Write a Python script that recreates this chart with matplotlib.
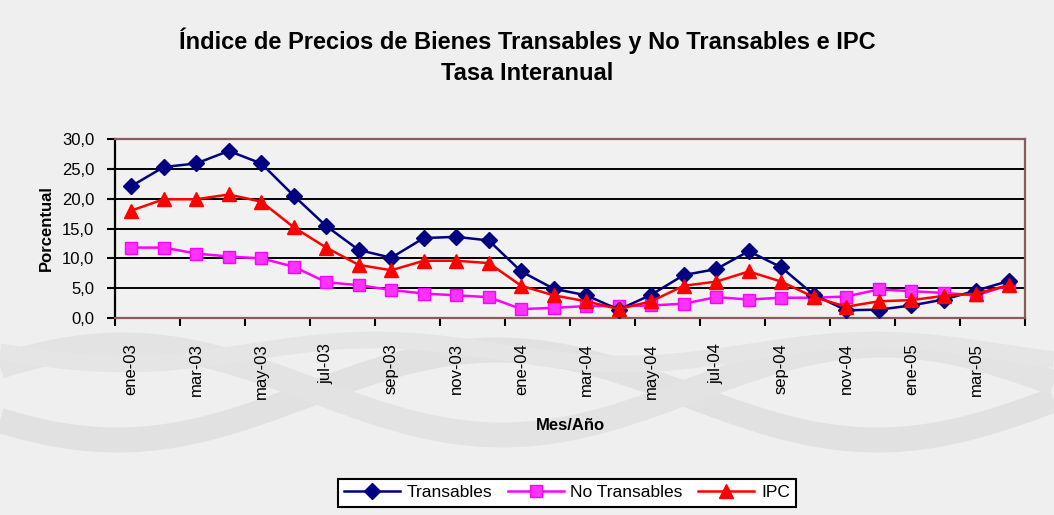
import matplotlib
matplotlib.use('Agg')
import matplotlib.pyplot as plt
import numpy as np

meses = ['ene-03', 'feb-03', 'mar-03', 'abr-03', 'may-03', 'jun-03', 'jul-03',
         'ago-03', 'sep-03', 'oct-03', 'nov-03', 'dic-03',
         'ene-04', 'feb-04', 'mar-04', 'abr-04', 'may-04', 'jun-04', 'jul-04',
         'ago-04', 'sep-04', 'oct-04', 'nov-04', 'dic-04',
         'ene-05', 'feb-05', 'mar-05', 'abr-05']

transables = [22.1, 25.3, 25.9, 28.0, 25.9, 20.5, 15.4, 11.4, 10.1, 13.4, 13.6, 13.0,
              7.8, 4.9, 3.8, 1.4, 3.9, 7.2, 8.2, 11.2, 8.5, 3.9, 1.3, 1.4,
              2.1, 3.1, 4.6, 6.2]
no_transables = [11.8, 11.8, 10.8, 10.3, 10.0, 8.6, 6.0, 5.5, 4.7, 4.1, 3.8, 3.5,
                 1.5, 1.7, 2.0, 2.0, 2.1, 2.4, 3.5, 3.1, 3.4, 3.4, 3.6, 4.8,
                 4.5, 4.2, 3.8, 5.5]
ipc = [18.0, 19.9, 19.9, 20.7, 19.5, 15.2, 11.8, 8.9, 8.0, 9.6, 9.6, 9.2,
       5.4, 3.8, 2.8, 1.5, 2.8, 5.4, 6.1, 7.8, 6.1, 3.5, 1.9, 2.8,
       3.0, 3.7, 4.1, 5.5]

yticks = [0, 5, 10, 15, 20, 25, 30]

plt.rcParams['font.family'] = ['Liberation Sans', 'DejaVu Sans']

fig = plt.figure(figsize=(10.54, 5.15), dpi=100)
fig.patch.set_facecolor('#efefef')

# decorative braided bands of the paper background
bg = fig.add_axes([0, 0, 1, 1], zorder=-10)
bg.set_xlim(0, 1054)
bg.set_ylim(515, 0)
bg.axis('off')
t = np.linspace(0, 1054, 400)
bg.plot(t, 395 + 45 * np.sin(2 * np.pi * t / 760 + 0.6), color='#e1e1e1', lw=18, solid_capstyle='butt')
bg.plot(t, 390 + 45 * np.sin(2 * np.pi * t / 760 + 3.7), color='#e3e3e3', lw=18, solid_capstyle='butt')
bg.plot(t, 352 + 12 * np.sin(2 * np.pi * t / 500), color='#e5e5e5', lw=12, solid_capstyle='butt')

ax = fig.add_axes([0.1091, 0.3825, 0.8634, 0.3476])
ax.set_facecolor('#f1f1f1')

x = np.arange(len(meses))
ax.plot(x, transables, color='#000080', lw=1.8, marker='D', ms=8.5,
        mfc='#000080', mec='#000080', label='Transables', zorder=5)
ax.plot(x, no_transables, color='#ff00ff', lw=1.8, marker='s', ms=8.5,
        mfc='#ff33ff', mec='#ff00ff', label='No Transables', zorder=4)
ax.plot(x, ipc, color='#ff0000', lw=1.8, marker='^', ms=10.5,
        mfc='#ff0000', mec='#ff0000', label='IPC', zorder=6)

ax.set_xlim(-0.5, len(meses) - 0.5)
ax.set_ylim(0, 30)
ax.set_yticks(yticks)
ax.yaxis.set_major_formatter(plt.FuncFormatter(lambda v, p: ('%.1f' % v).replace('.', ',')))
ax.grid(axis='y', color='black', lw=1.4)
ax.set_axisbelow(True)

# ticks between categories, labels every two months
ax.set_xticks(np.arange(-0.5, len(meses), 2))
ax.set_xticklabels([])
ax.set_xticks(x[::2], minor=True)
ax.set_xticklabels(meses[::2], minor=True, rotation=90, fontsize=12)
ax.tick_params(axis='x', which='minor', length=0, pad=18)
ax.tick_params(axis='x', which='major', length=6, width=1.5, direction='out')
ax.tick_params(axis='y', length=6, width=1.5, labelsize=12, pad=9)

for s in ['top', 'right', 'bottom']:
    ax.spines[s].set_color('#8c5a5a')
    ax.spines[s].set_linewidth(1.6)
ax.spines['left'].set_color('black')
ax.spines['left'].set_linewidth(1.6)

ax.set_ylabel('Porcentual', fontsize=12, fontweight='bold', labelpad=6)
ax.set_xlabel('Mes/Año', fontsize=12, fontweight='bold', labelpad=14)

fig.text(0.50, 0.921, 'Índice de Precios de Bienes Transables y No Transables e IPC',
         ha='center', va='center', fontsize=17, fontweight='bold')
fig.text(0.50, 0.858, 'Tasa Interanual', ha='center', va='center',
         fontsize=17, fontweight='bold')

leg = fig.legend(loc='center', bbox_to_anchor=(0.538, 0.043), ncol=3,
                 frameon=True, fancybox=False, fontsize=12.5, handlelength=3.2,
                 columnspacing=0.9, handletextpad=0.4, borderpad=0.35)
leg.get_frame().set_edgecolor('black')
leg.get_frame().set_linewidth(1.5)
leg.get_frame().set_facecolor('white')
leg.get_frame().set_alpha(1)

plt.savefig('out.png', dpi=100, facecolor=fig.get_facecolor())
